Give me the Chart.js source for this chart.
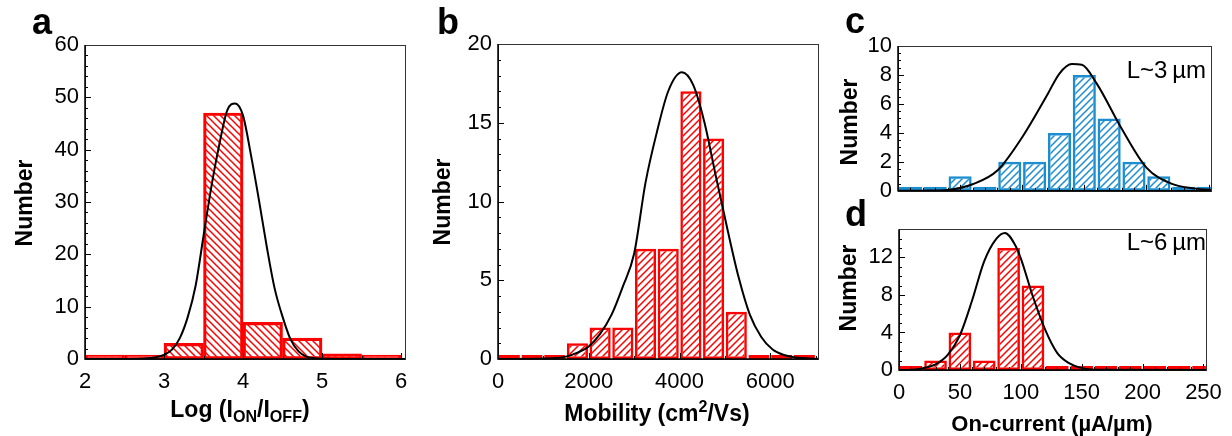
<!DOCTYPE html>
<html>
<head>
<meta charset="utf-8">
<script src="https://cdn.jsdelivr.net/npm/chart.js@4/dist/chart.umd.min.js"></script>
<style>
  body { margin: 0; background: #fff; }
  #wrap { position: relative; width: 1232px; height: 436px; overflow: hidden; font-family: Arial, "Liberation Sans", sans-serif; color: #000; }
  canvas { position: absolute; }
  .t { position: absolute; white-space: nowrap; line-height: 1; }
  .letter { font-weight: bold; font-size: 36px; }
  .xt { font-weight: bold; font-size: 23px; transform: translateX(-50%); }
  .yt { font-weight: bold; font-size: 23px; transform: translate(-50%, -50%) rotate(-90deg); }
  .lab { font-size: 24px; transform: translateX(-100%); }
  sub, sup { font-size: 70%; line-height: 0; }
  sub { vertical-align: -0.28em; }
  sup { vertical-align: 0.55em; }
</style>
</head>
<body>
<div id="wrap">
  <canvas id="ca" width="420" height="436" style="left:0;top:0"></canvas>
  <canvas id="cb" width="410" height="436" style="left:420px;top:0"></canvas>
  <canvas id="cc" width="392" height="210" style="left:840px;top:0"></canvas>
  <canvas id="cd" width="392" height="226" style="left:840px;top:210px"></canvas>

  <div class="t letter" style="left:32px;top:4px">a</div>
  <div class="t letter" style="left:437px;top:4px">b</div>
  <div class="t letter" style="left:845px;top:3px">c</div>
  <div class="t letter" style="left:845px;top:196px">d</div>

  <div class="t yt" style="left:24px;top:203px">Number</div>
  <div class="t yt" style="left:442px;top:202px">Number</div>
  <div class="t yt" style="left:849px;top:122px">Number</div>
  <div class="t yt" style="left:848px;top:288px">Number</div>

  <div class="t xt" style="left:240px;top:398px">Log (I<sub>ON</sub>/I<sub>OFF</sub>)</div>
  <div class="t xt" style="left:657px;top:402px">Mobility (cm<sup>2</sup>/Vs)</div>
  <div class="t xt" style="left:1052px;top:413px;font-size:22px">On-current (µA/µm)</div>

  <div class="t lab" style="left:1206px;top:58px">L~3&thinsp;µm</div>
  <div class="t lab" style="left:1206px;top:230px">L~6&thinsp;µm</div>
</div>
<script>
// panel a: log(Ion/Ioff) histogram, bin width 0.5
const aBins = [2.25, 2.75, 3.25, 3.75, 4.25, 4.75, 5.25, 5.75];
const aCounts = [0, 0, 3, 47, 7, 4, 1, 0];
const aFitX = [2.0, 2.6, 2.8, 2.9, 3.0, 3.1, 3.2, 3.3, 3.4, 3.5, 3.6, 3.7, 3.8, 3.9, 4.0, 4.1, 4.2, 4.3, 4.4, 4.5, 4.6, 4.7, 4.8, 4.9, 5.0, 5.5, 6.05];
const aFitY = [0, 0.02, 0.15, 0.35, 0.8, 1.8, 4.0, 8.0, 14.0, 23.5, 33, 41, 47.5, 48.8, 46.5, 39, 30.5, 21.5, 13.5, 8.1, 3.8, 1.5, 0.45, 0.15, 0.05, 0, 0];
const aTicksX = [2, 3, 4, 5, 6];
const aTicksY = [0, 10, 20, 30, 40, 50, 60];

// panel b: mobility histogram, bin width 500
const bBins = [250, 750, 1250, 1750, 2250, 2750, 3250, 3750, 4250, 4750, 5250, 5750, 6250, 6750];
const bCounts = [0, 0, 0, 1, 2, 2, 7, 7, 17, 14, 3, 0, 0, 0];
const bFitX = [0, 1000, 1500, 1750, 2000, 2250, 2500, 2750, 3000, 3250, 3500, 3750, 4050, 4300, 4550, 4800, 5050, 5300, 5550, 5800, 6050, 6300, 6550, 7050];
const bFitY = [0, 0.03, 0.15, 0.4, 0.8, 1.6, 2.8, 4.6, 6.7, 11.2, 14.4, 17.0, 18.2, 17.4, 15.0, 11.6, 8.3, 5.2, 2.8, 1.4, 0.6, 0.25, 0.1, 0.02];
const bTicksX = [0, 2000, 4000, 6000];
const bTicksY = [0, 5, 10, 15, 20];

// panel c / d: on-current histograms, bin width 20
const cdBins = [10, 30, 50, 70, 90, 110, 130, 150, 170, 190, 210, 230, 250];
const cCounts = [0, 0, 1, 0, 2, 2, 4, 8, 5, 2, 1, 0, 0];
const cFitX = [0, 20, 40, 60, 80, 100, 120, 130, 140, 148, 160, 180, 200, 220, 240, 252];
const cFitY = [0, 0.01, 0.06, 0.45, 1.4, 3.7, 6.6, 8.1, 8.75, 8.7, 7.4, 4.3, 1.6, 0.5, 0.15, 0.06];
const dCounts = [0, 1, 4, 1, 13, 9, 0, 0, 0, 0, 0, 0, 0];
const dFitX = [0, 10, 20, 30, 40, 50, 60, 70, 80, 87, 95, 100, 110, 120, 130, 140, 150, 170, 252];
const dFitY = [0, 0.03, 0.2, 0.6, 1.6, 3.7, 7.4, 11.6, 14.0, 14.6, 13.4, 11.9, 7.8, 4.3, 1.8, 0.7, 0.2, 0.02, 0];
const cdTicksX = [0, 50, 100, 150, 200, 250];
const cTicksY = [0, 2, 4, 6, 8, 10];
const dTicksY = [0, 4, 8, 12];

Chart.defaults.font.family = 'Arial, "Liberation Sans", sans-serif';
Chart.defaults.color = '#000';

function hatch(color, dir) {
  const s = 7;
  const c = document.createElement('canvas');
  c.width = s; c.height = s;
  const g = c.getContext('2d');
  g.strokeStyle = color;
  g.lineWidth = 1.5;
  g.beginPath();
  if (dir == '/') {
    g.moveTo(-1, s + 1); g.lineTo(s + 1, -1);
    g.moveTo(-2, 2); g.lineTo(2, -2);
    g.moveTo(s - 2, s + 2); g.lineTo(s + 2, s - 2);
  } else {
    g.moveTo(-1, -1); g.lineTo(s + 1, s + 1);
    g.moveTo(s - 2, -2); g.lineTo(s + 2, 2);
    g.moveTo(-2, s - 2); g.lineTo(2, s + 2);
  }
  g.stroke();
  return g.createPattern(c, 'repeat');
}

// inward major/minor tick marks and the box frame
const innerTicks = {
  id: 'innerTicks',
  afterDatasetsDraw(chart, args, o) {
    const ctx = chart.ctx, a = chart.chartArea, x = chart.scales.x, y = chart.scales.y;
    ctx.save();
    ctx.strokeStyle = '#000';
    ctx.lineWidth = 1;
    ctx.beginPath();
    const n1 = Math.round((x.max - x.min) / o.minorX);
    for (let i = 0; i <= n1; i++) {
      const v = x.min + i * o.minorX;
      if (v > x.max) break;
      const px = Math.round(x.getPixelForValue(v)) + 0.5;
      const major = Math.abs(v / o.majorX - Math.round(v / o.majorX)) < 1e-6;
      ctx.moveTo(px, a.bottom);
      ctx.lineTo(px, a.bottom - (major ? 6 : 3));
    }
    const n2 = Math.round((y.max - y.min) / o.minorY);
    for (let i = 0; i <= n2; i++) {
      const v = y.min + i * o.minorY;
      const py = Math.round(y.getPixelForValue(v)) + 0.5;
      const major = Math.abs(v / o.majorY - Math.round(v / o.majorY)) < 1e-6;
      ctx.moveTo(a.left, py);
      ctx.lineTo(a.left + (major ? 6 : 3), py);
    }
    ctx.stroke();
    ctx.lineWidth = 1;
    ctx.strokeStyle = '#333';
    ctx.strokeRect(Math.round(a.left) + 0.5, Math.round(a.top) + 0.5, Math.round(a.width), Math.round(a.height));
    ctx.strokeStyle = '#000';
    ctx.lineWidth = 1.5;
    ctx.beginPath();
    ctx.moveTo(a.left, a.top); ctx.lineTo(a.left, a.bottom); ctx.lineTo(a.right, a.bottom);
    ctx.stroke();
    ctx.restore();
  }
};

function panel(id, o) {
  return new Chart(document.getElementById(id), {
    type: 'bar',
    data: {
      datasets: [{
        type: 'line',
        data: o.fitX.map((v, i) => ({x: v, y: o.fitY[i]})),
        borderColor: '#000',
        borderWidth: 2,
        pointRadius: 0,
        cubicInterpolationMode: 'monotone',
        order: 0
      }, {
        type: 'bar',
        data: o.bins.map((v, i) => ({x: v, y: o.counts[i]})),
        backgroundColor: hatch(o.color, o.dir),
        borderColor: o.color,
        borderWidth: 2.5,
        borderSkipped: false,
        barPercentage: o.bp,
        categoryPercentage: 1,
        minBarLength: 4,
        clip: {left: 0, top: 0, right: 0, bottom: 4},
        order: 1
      }]
    },
    options: {
      responsive: false,
      animation: false,
      layout: {padding: o.pad},
      plugins: {
        legend: {display: false},
        tooltip: {enabled: false},
        innerTicks: o.ticks
      },
      scales: {
        x: {
          type: 'linear',
          offset: false,
          min: o.xMin, max: o.xMax,
          grid: {display: false, drawTicks: false, offset: false},
          border: {display: false},
          ticks: {
            display: o.xLabels,
            padding: 10,
            font: {size: 22},
            callback: v => String(v)
          },
          afterBuildTicks: s => { s.ticks = o.xTicks.map(v => ({value: v})); },
          afterFit: s => { s.height = o.xH; }
        },
        y: {
          min: 0, max: o.yMax,
          grid: {display: false, drawTicks: false},
          border: {display: false},
          ticks: {
            padding: 6,
            font: {size: 22},
            callback: v => String(v)
          },
          afterBuildTicks: s => { s.ticks = o.yTicks.map(v => ({value: v})); },
          afterFit: s => { s.width = o.yW; }
        }
      }
    },
    plugins: [innerTicks]
  });
}

panel('ca', {
  bins: aBins, counts: aCounts, fitX: aFitX, fitY: aFitY,
  color: '#FF0000', dir: '\\', bp: 1,
  xMin: 2, xMax: 6.05, yMax: 60, xTicks: aTicksX, yTicks: aTicksY, xLabels: true,
  yW: 85, xH: 40, pad: {left: 0, right: 15, top: 45, bottom: 37},
  ticks: {minorX: 0.5, majorX: 1, minorY: 2, majorY: 10}
});

panel('cb', {
  bins: bBins, counts: bCounts, fitX: bFitX, fitY: bFitY,
  color: '#FF0000', dir: '/', bp: 0.93,
  xMin: 0, xMax: 7050, yMax: 20, xTicks: bTicksX, yTicks: bTicksY, xLabels: true,
  yW: 78, xH: 40, pad: {left: 0, right: 12, top: 44, bottom: 37},
  ticks: {minorX: 1000, majorX: 2000, minorY: 1, majorY: 5}
});

panel('cc', {
  bins: cdBins, counts: cCounts, fitX: cFitX, fitY: cFitY,
  color: '#1C8ECF', dir: '/', bp: 0.93,
  xMin: 0, xMax: 252, yMax: 10, xTicks: cdTicksX, yTicks: cTicksY, xLabels: false,
  yW: 58, xH: 5, pad: {left: 0, right: 21, top: 46, bottom: 6},
  ticks: {minorX: 10, majorX: 50, minorY: 0.5, majorY: 2}
});

panel('cd', {
  bins: cdBins, counts: dCounts, fitX: dFitX, fitY: dFitY,
  color: '#FF0000', dir: '/', bp: 0.93,
  xMin: 0, xMax: 252, yMax: 15, xTicks: cdTicksX, yTicks: dTicksY, xLabels: true,
  yW: 59, xH: 40, pad: {left: 0, right: 21, top: 6, bottom: 26},
  ticks: {minorX: 10, majorX: 50, minorY: 1, majorY: 4}
});
</script>
</body>
</html>
